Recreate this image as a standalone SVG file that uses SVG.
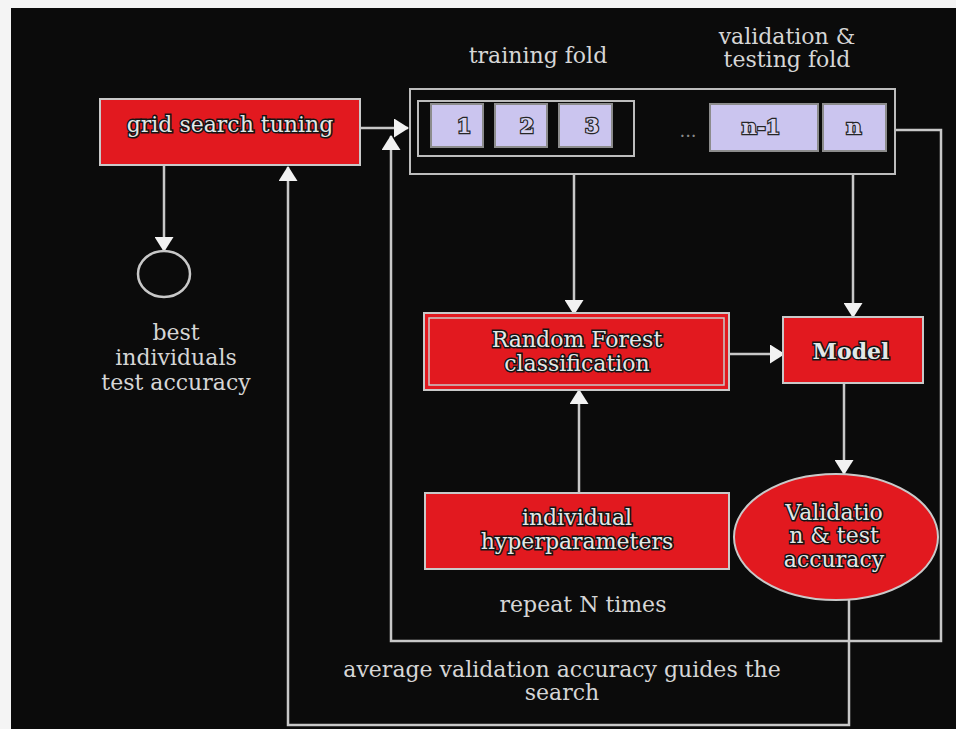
<svg xmlns="http://www.w3.org/2000/svg" width="956" height="729" viewBox="0 0 956 729">
<defs>
<style>
.bg{fill:#0b0b0b}
.red{fill:#e2191f;stroke:#c9c9c9;stroke-width:2}
.inner{fill:none;stroke:#c9c9c9;stroke-width:1.5}
.fold{fill:#cbc5ef;stroke:#8c8c8c;stroke-width:2}
.frame{fill:none;stroke:#bdbdbd;stroke-width:2}
.conn{fill:none;stroke:#c8c8c8;stroke-width:2.5}
.lbl{font-family:"DejaVu Serif","Liberation Serif",serif;font-size:22px;fill:#d6d6d6;text-anchor:middle}
.nt{font-family:"DejaVu Serif","Liberation Serif",serif;font-size:22px;fill:#e2e8e8;stroke:#141414;stroke-width:3;paint-order:stroke;text-anchor:middle}
.fn{font-family:"DejaVu Serif","Liberation Serif",serif;font-size:21px;font-weight:bold;fill:#d6d2ee;stroke:#262626;stroke-width:2.4;paint-order:stroke;text-anchor:middle}
</style>
<marker id="ah" viewBox="0 0 15 19" refX="14" refY="9.5" markerWidth="15" markerHeight="19" markerUnits="userSpaceOnUse" orient="auto">
<path d="M0,0 L15,9.5 L0,19 z" fill="#f2f2f2"/>
</marker>
</defs>
<rect x="0" y="0" width="956" height="729" fill="#f4f4f4"/>
<rect class="bg" x="11" y="8" width="945" height="721"/>

<g id="connectors">
<path class="conn" d="M164,166 V251" marker-end="url(#ah)"/>
<path class="conn" d="M849,600 V725 H288 V167" marker-end="url(#ah)"/>
<path class="conn" d="M895,130 H941 V641 H391 V136" marker-end="url(#ah)"/>
<path class="conn" d="M360,128 H408" marker-end="url(#ah)"/>
<path class="conn" d="M574,175 V314" marker-end="url(#ah)"/>
<path class="conn" d="M853,175 V317" marker-end="url(#ah)"/>
<path class="conn" d="M729,354 H784" marker-end="url(#ah)"/>
<path class="conn" d="M844,384 V474" marker-end="url(#ah)"/>
<path class="conn" d="M579,493 V390" marker-end="url(#ah)"/>
</g>

<g id="grid-search">
<rect class="red" x="100" y="99" width="260" height="66"/>
<text class="nt" x="230" y="132">grid search tuning</text>
</g>

<g id="best-individuals">
<ellipse cx="164" cy="274" rx="26" ry="23" fill="none" stroke="#c8c8c8" stroke-width="2.5"/>
<text class="lbl" x="176" y="340" font-size="21">best</text>
<text class="lbl" x="176" y="365" font-size="21">individuals</text>
<text class="lbl" x="176" y="390" font-size="21">test accuracy</text>
</g>

<g id="labels">
<text class="lbl" x="538" y="63">training fold</text>
<text class="lbl" x="787" y="44">validation &amp;</text>
<text class="lbl" x="787" y="67">testing fold</text>
</g>

<g id="folds">
<rect class="frame" x="410" y="89" width="485" height="85"/>
<rect class="frame" x="418" y="101" width="216" height="55"/>
<g id="fold-1"><rect class="fold" x="431" y="104" width="52" height="43"/><text class="fn" x="464" y="133">1</text></g>
<g id="fold-2"><rect class="fold" x="495" y="104" width="52" height="43"/><text class="fn" x="527" y="133">2</text></g>
<g id="fold-3"><rect class="fold" x="559" y="104" width="53" height="43"/><text class="fn" x="592" y="133">3</text></g>
<text x="688" y="137" font-family="DejaVu Serif, serif" font-size="18" fill="#8a8a8a" text-anchor="middle">...</text>
<g id="fold-n-1"><rect class="fold" x="710" y="104" width="108" height="47"/><text class="fn" x="761" y="134">n-1</text></g>
<g id="fold-n"><rect class="fold" x="823" y="104" width="63" height="47"/><text class="fn" x="854" y="134">n</text></g>
</g>

<g id="random-forest">
<rect class="red" x="424" y="313" width="305" height="77"/>
<rect class="inner" x="429" y="318" width="295" height="67"/>
<text class="nt" x="577" y="347">Random Forest</text>
<text class="nt" x="577" y="371">classification</text>
</g>

<g id="model">
<rect class="red" x="783" y="317" width="140" height="66"/>
<text class="nt" x="851" y="359" font-weight="bold" font-size="21">Model</text>
</g>

<g id="validation-accuracy">
<ellipse cx="836" cy="537" rx="102" ry="63" fill="#e2191f" stroke="#c9c9c9" stroke-width="2"/>
<text class="nt" x="834" y="520" font-size="19">Validatio</text>
<text class="nt" x="834" y="543" font-size="19">n &amp; test</text>
<text class="nt" x="834" y="567" font-size="19">accuracy</text>
</g>

<g id="hyperparameters">
<rect class="red" x="425" y="493" width="304" height="76"/>
<text class="nt" x="577" y="525" font-size="21.5">individual</text>
<text class="nt" x="577" y="549" font-size="21.5">hyperparameters</text>
</g>

<g id="notes">
<text class="lbl" x="583" y="612">repeat N times</text>
<text class="lbl" x="562" y="677">average validation accuracy guides the</text>
<text class="lbl" x="562" y="700">search</text>
</g>
</svg>
